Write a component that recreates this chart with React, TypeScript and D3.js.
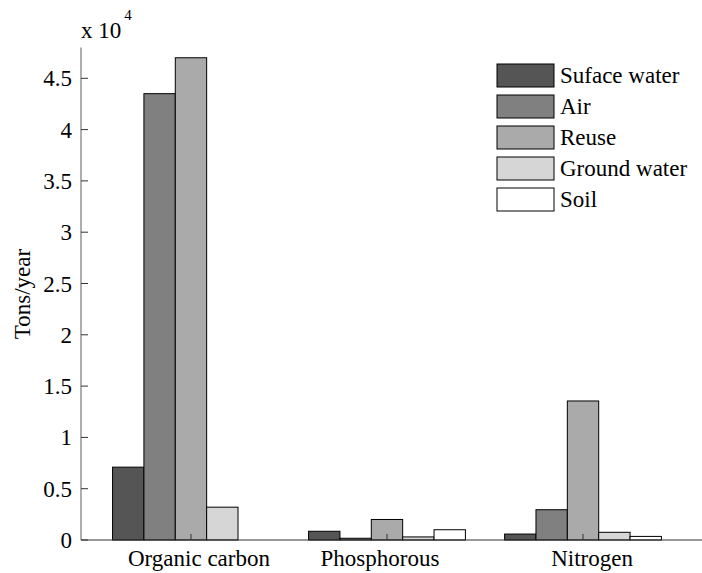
import React, { useEffect, useRef } from "react";
import * as d3 from "d3";

const categories = ["Organic carbon", "Phosphorous", "Nitrogen"];
const seriesNames = ["Suface water", "Air", "Reuse", "Ground water", "Soil"];
const surfaceWater = [7100, 850, 580];
const air = [43500, 170, 2950];
const reuse = [47000, 2000, 13550];
const groundWater = [3200, 300, 750];
const soil = [0, 1000, 350];
const yTicks = [0, 5000, 10000, 15000, 20000, 25000, 30000, 35000, 40000, 45000];

const seriesColors = ["#555555", "#808080", "#aaaaaa", "#d6d6d6", "#ffffff"];
const FONT = '"Liberation Serif", "DejaVu Serif", serif';

export default function App() {
  const svgRef = useRef<SVGSVGElement | null>(null);

  useEffect(() => {
    const width = 702;
    const height = 573;
    const series = [surfaceWater, air, reuse, groundWater, soil];

    const svg = d3.select(svgRef.current);
    svg.selectAll("*").remove();
    svg.attr("width", width).attr("height", height);

    // group index 1..3 maps onto pixel centres
    const x = d3.scaleLinear().domain([0.439, 3.607]).range([81, 702]);
    const y = d3.scaleLinear().domain([0, 48000]).range([540, 47.5]);
    const groupWidth = 0.8;
    const barW = groupWidth / series.length;

    // bars
    series.forEach((vals, s) => {
      svg
        .append("g")
        .selectAll("rect")
        .data(vals)
        .join("rect")
        .attr("x", (d, i) => x(i + 1 - groupWidth / 2 + s * barW))
        .attr("width", x(barW) - x(0))
        .attr("y", (d) => y(d))
        .attr("height", (d) => y(0) - y(d))
        .attr("fill", seriesColors[s])
        .attr("stroke", "#000")
        .attr("stroke-width", 1);
    });

    // y axis
    svg
      .append("line")
      .attr("x1", 81)
      .attr("x2", 81)
      .attr("y1", y(48000))
      .attr("y2", y(0))
      .attr("stroke", "#777")
      .attr("stroke-width", 1.2);

    const yt = svg.append("g");
    yTicks.forEach((t) => {
      yt.append("line")
        .attr("x1", 81)
        .attr("x2", 88)
        .attr("y1", y(t))
        .attr("y2", y(t))
        .attr("stroke", "#333");
      yt.append("text")
        .attr("x", 72)
        .attr("y", y(t))
        .attr("dy", "0.35em")
        .attr("text-anchor", "end")
        .text(d3.format("~g")(t / 10000));
    });

    // x axis
    svg
      .append("line")
      .attr("x1", 81)
      .attr("x2", 702)
      .attr("y1", y(0))
      .attr("y2", y(0))
      .attr("stroke", "#333")
      .attr("stroke-width", 1.2);

    categories.forEach((c, i) => {
      svg
        .append("line")
        .attr("x1", x(i + 1))
        .attr("x2", x(i + 1))
        .attr("y1", y(0))
        .attr("y2", y(0) - 6)
        .attr("stroke", "#333");
      svg
        .append("text")
        .attr("x", x(i + 1) + [8, -7, 9][i])
        .attr("y", 566)
        .attr("text-anchor", "middle")
        .text(c);
    });

    // exponent label
    const exp = svg.append("text").attr("x", 81).attr("y", 38);
    exp.append("tspan").text("x 10");
    exp.append("tspan").attr("dx", 3).attr("dy", -18).style("font-size", "15px").text("4");

    // y label
    svg
      .append("text")
      .attr("transform", `translate(30, 294) rotate(-90)`)
      .attr("text-anchor", "middle")
      .text("Tons/year");

    // legend
    const legend = svg.append("g").attr("transform", "translate(497, 64)");
    seriesNames.forEach((n, i) => {
      legend
        .append("rect")
        .attr("x", 0)
        .attr("y", i * 31)
        .attr("width", 57)
        .attr("height", 23)
        .attr("fill", seriesColors[i])
        .attr("stroke", "#000");
      legend
        .append("text")
        .attr("x", 63)
        .attr("y", i * 31 + 19)
        .text(n);
    });
  }, []);

  return (
    <div style={{ position: "absolute", left: 0, top: 0, background: "#fff" }}>
      <svg
        ref={svgRef}
        style={{ display: "block", fontFamily: FONT, fontSize: "23px" }}
      />
    </div>
  );
}
